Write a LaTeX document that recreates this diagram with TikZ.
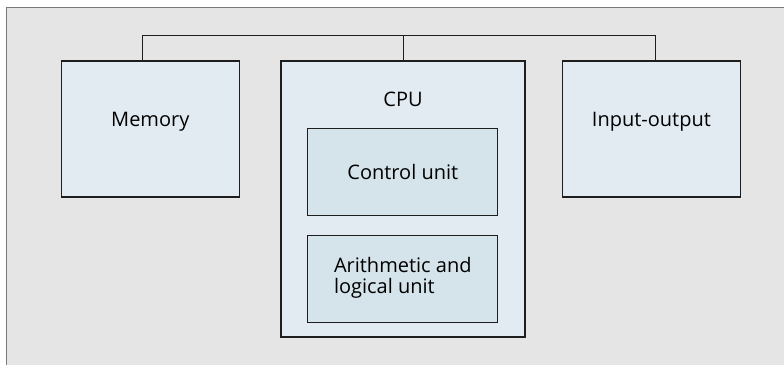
\documentclass[tikz,border=0pt]{standalone}
\usepackage{fontspec}
\setmainfont{Open Sans}
\usepackage{xcolor}
\usetikzlibrary{positioning,calc}

\definecolor{framegray}{HTML}{E5E5E5}
\definecolor{frameline}{HTML}{7A7A7A}
\definecolor{boxblue}{HTML}{E3EBF2}
\definecolor{unitblue}{HTML}{D5E3EA}
\definecolor{edgedark}{HTML}{1E1E1E}

\begin{document}
\begin{tikzpicture}[
    x=1pt, y=-1pt,
    unitbox/.style={rectangle, draw=edgedark, fill=boxblue, line width=1.1pt, inner sep=0pt},
    subunit/.style={rectangle, draw=edgedark, fill=unitblue, line width=1.1pt, inner sep=0pt, minimum width=190pt, minimum height=87pt},
    lbl/.style={font=\fontsize{20}{20.3}\selectfont, text=black, inner sep=0pt},
    bus/.style={draw=edgedark, line width=1pt}
]
    \useasboundingbox (0,0) rectangle (784,364);

    % Background frame
    \fill[framegray] (6.7,7.3) rectangle (790,370);
    \draw[frameline, line width=1.5pt] (6.7,370) -- (6.7,7.3) -- (790,7.3);

    % Main units
    \node[unitbox, minimum width=177.5pt, minimum height=136pt] (memory) at (150.3,129) {};
    \node[unitbox, minimum width=244pt, minimum height=276pt] (cpu) at (403,199) {};
    \node[unitbox, minimum width=177.5pt, minimum height=136pt] (io) at (651.4,129) {};

    % Units inside the CPU
    \node[subunit] (control) at (402.8,172.3) {};
    \node[subunit, below=18.3pt of control] (alu) {};

    % Labels
    \node[lbl] (memorytxt) at ([yshift=7pt]memory.center) {Memory};
    \node[lbl] (iotxt) at ([yshift=7pt]io.center) {Input-output};
    \node[lbl] (cputxt) at (403,99) {CPU};
    \node[lbl] (controltxt) at (control.center) {Control unit};
    \node[lbl, align=left] (alutxt) at ([yshift=1pt]alu.center) {Arithmetic and\\logical unit};

    % System bus
    \coordinate (busL) at (142,35);
    \coordinate (busR) at (655.3,35);
    \draw[bus] (busL |- memory.north) -- (busL) -- (busR) -- (busR |- io.north);
    \draw[bus] (cpu.north) -- (cpu.north |- busL);
\end{tikzpicture}
\end{document}
